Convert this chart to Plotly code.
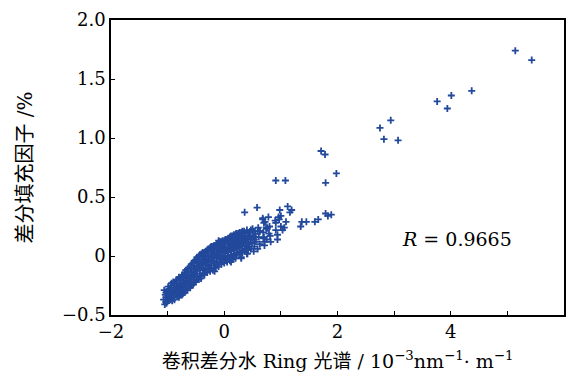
import plotly.graph_objects as go

# ---- data ----
# dense band, hand-read column by column
band_x = [
    -1.06, -1.04, -1.07, -1.05,
    -0.99, -1.01, -0.98, -1.00, -1.02,
    -0.94, -0.96, -0.93, -0.95,
    -0.90, -0.88, -0.91, -0.89, -0.92,
    -0.85, -0.84, -0.86, -0.83,
    -0.80, -0.79, -0.81, -0.78, -0.80,
    -0.75, -0.74, -0.76, -0.73, -0.75,
    -0.70, -0.69, -0.71, -0.68, -0.70,
    -0.65, -0.64, -0.66, -0.63, -0.65,
    -0.60, -0.59, -0.61, -0.58, -0.60,
    -0.55, -0.54, -0.56, -0.53, -0.55,
    -0.50, -0.49, -0.51, -0.48, -0.50,
    -0.45, -0.44, -0.46, -0.43, -0.45,
    -0.40, -0.39, -0.41, -0.38, -0.40,
    -0.35, -0.34, -0.36, -0.33, -0.35,
    -0.30, -0.29, -0.31, -0.28, -0.30,
    -0.25, -0.24, -0.26, -0.23, -0.25,
    -0.20, -0.19, -0.21, -0.18, -0.20,
    -0.15, -0.14, -0.16, -0.13, -0.15,
    -0.10, -0.09, -0.11, -0.08, -0.10,
    -0.05, -0.04, -0.06, -0.03, -0.05,
    0.00, 0.01, -0.01, 0.02, 0.00,
    0.05, 0.06, 0.04, 0.07, 0.05,
    0.10, 0.11, 0.09, 0.12, 0.10,
    0.15, 0.16, 0.14, 0.17, 0.15,
    0.20, 0.21, 0.19, 0.22, 0.20,
    0.25, 0.26, 0.24, 0.27,
    0.30, 0.31, 0.29, 0.32, 0.30,
    0.35, 0.36, 0.34, 0.37,
    0.40, 0.41, 0.39, 0.42, 0.40,
    0.45, 0.46, 0.44,
    0.50, 0.51, 0.49, 0.52,
    0.55, 0.56,
    0.60, 0.61, 0.59,
    0.70, 0.69, 0.71,
    0.80, 0.81,
    0.90, 0.91,
]
band_y = [
    -0.29, -0.33, -0.37, -0.41,
    -0.26, -0.30, -0.34, -0.38, -0.40,
    -0.25, -0.29, -0.33, -0.37,
    -0.22, -0.27, -0.31, -0.35, -0.38,
    -0.21, -0.26, -0.30, -0.34,
    -0.18, -0.23, -0.27, -0.31, -0.35,
    -0.17, -0.21, -0.26, -0.30, -0.33,
    -0.14, -0.19, -0.23, -0.27, -0.31,
    -0.11, -0.16, -0.21, -0.25, -0.29,
    -0.09, -0.14, -0.18, -0.22, -0.27,
    -0.06, -0.11, -0.16, -0.20, -0.24,
    -0.03, -0.08, -0.13, -0.17, -0.22,
    0.00, -0.05, -0.10, -0.15, -0.20,
    0.02, -0.03, -0.08, -0.12, -0.17,
    0.03, -0.02, -0.06, -0.11, -0.16,
    0.05, 0.00, -0.05, -0.09, -0.14,
    0.07, 0.02, -0.03, -0.08, -0.13,
    0.08, 0.03, -0.01, -0.06, -0.12,
    0.09, 0.05, 0.00, -0.05, -0.10,
    0.11, 0.06, 0.01, -0.03, -0.09,
    0.12, 0.07, 0.03, -0.02, -0.07,
    0.13, 0.08, 0.04, -0.01, -0.06,
    0.14, 0.10, 0.05, 0.00, -0.05,
    0.16, 0.11, 0.06, 0.01, -0.04,
    0.17, 0.12, 0.07, 0.02, -0.03,
    0.18, 0.13, 0.08, 0.03, -0.02,
    0.19, 0.14, 0.09, 0.04,
    0.20, 0.15, 0.10, 0.05, -0.01,
    0.21, 0.16, 0.11, 0.06,
    0.22, 0.17, 0.12, 0.07, 0.02,
    0.20, 0.14, 0.08,
    0.23, 0.17, 0.11, 0.04,
    0.19, 0.12,
    0.24, 0.16, 0.06,
    0.28, 0.20, 0.12,
    0.25, 0.17,
    0.30, 0.22,
]

# second pass over the band, filling between the first columns
fill_x = [
    -1.03, -1.03, -1.03,
    -0.98, -0.98, -0.98,
    -0.93, -0.93, -0.93, -0.93,
    -0.88, -0.88, -0.88, -0.88,
    -0.83, -0.83, -0.83, -0.83,
    -0.78, -0.78, -0.78, -0.78,
    -0.73, -0.73, -0.73, -0.73, -0.73,
    -0.68, -0.68, -0.68, -0.68, -0.68,
    -0.63, -0.63, -0.63, -0.63, -0.63,
    -0.58, -0.58, -0.58, -0.58, -0.58,
    -0.53, -0.53, -0.53, -0.53, -0.53,
    -0.48, -0.48, -0.48, -0.48, -0.48,
    -0.43, -0.43, -0.43, -0.43, -0.43,
    -0.38, -0.38, -0.38, -0.38, -0.38,
    -0.33, -0.33, -0.33, -0.33, -0.33,
    -0.28, -0.28, -0.28, -0.28, -0.28,
    -0.23, -0.23, -0.23, -0.23, -0.23,
    -0.18, -0.18, -0.18, -0.18, -0.18,
    -0.13, -0.13, -0.13, -0.13, -0.13,
    -0.08, -0.08, -0.08, -0.08, -0.08,
    -0.03, -0.03, -0.03, -0.03, -0.03,
    0.02, 0.02, 0.02, 0.02, 0.02,
    0.07, 0.07, 0.07, 0.07, 0.07,
    0.12, 0.12, 0.12, 0.12, 0.12,
    0.17, 0.17, 0.17, 0.17, 0.17,
    0.22, 0.22, 0.22, 0.22, 0.22,
    0.27, 0.27, 0.27, 0.27, 0.27,
    0.32, 0.32, 0.32, 0.32, 0.32,
    0.37, 0.37, 0.37, 0.37,
    0.42, 0.42, 0.42, 0.42,
    0.47, 0.47, 0.47,
    0.53, 0.53, 0.53,
    0.63, 0.63,
    0.75, 0.75,
]
fill_y = [
    -0.31, -0.35, -0.39,
    -0.28, -0.32, -0.36,
    -0.23, -0.27, -0.31, -0.35,
    -0.24, -0.29, -0.33, -0.37,
    -0.20, -0.24, -0.28, -0.32,
    -0.20, -0.25, -0.29, -0.33,
    -0.16, -0.19, -0.23, -0.28, -0.32,
    -0.12, -0.17, -0.21, -0.25, -0.29,
    -0.10, -0.13, -0.18, -0.23, -0.27,
    -0.07, -0.11, -0.16, -0.20, -0.25,
    -0.04, -0.09, -0.13, -0.18, -0.22,
    -0.01, -0.06, -0.11, -0.15, -0.20,
    0.01, -0.03, -0.07, -0.12, -0.17,
    0.03, -0.01, -0.05, -0.10, -0.15,
    0.04, 0.00, -0.04, -0.08, -0.13,
    0.06, 0.02, -0.03, -0.07, -0.11,
    0.08, 0.04, 0.00, -0.05, -0.10,
    0.09, 0.05, 0.01, -0.04, -0.08,
    0.10, 0.07, 0.03, -0.02, -0.07,
    0.12, 0.08, 0.04, -0.01, -0.05,
    0.13, 0.09, 0.05, 0.00, -0.04,
    0.14, 0.10, 0.06, 0.02, -0.03,
    0.15, 0.12, 0.08, 0.03, -0.02,
    0.17, 0.13, 0.09, 0.04, -0.01,
    0.18, 0.14, 0.10, 0.05, 0.00,
    0.19, 0.15, 0.11, 0.06, 0.01,
    0.20, 0.16, 0.12, 0.07, 0.02,
    0.21, 0.17, 0.13, 0.08, 0.03,
    0.19, 0.14, 0.09, 0.04,
    0.20, 0.15, 0.10, 0.05,
    0.22, 0.16, 0.06,
    0.21, 0.14, 0.08,
    0.21, 0.10,
    0.23, 0.14,
]

# scattered points around and above the band
sparse_x = [
    0.36, 0.58, 0.68, 0.78, 0.72, 0.98, 1.12, 1.19, 1.16, 1.00, 0.96,
    1.09, 0.91, 1.00, 1.06, 1.03, 1.37, 1.45, 1.35, 1.60, 1.66, 1.79,
    1.83, 1.89, 0.21, 0.30, 0.44, 0.55, 0.62, 0.70, 0.79, 0.94, 0.94,
    0.71, 0.41, 0.68, 0.76, 0.69, 0.82, 0.97, -0.41, -0.17, -0.10,
    -0.08, 0.30, 0.12, -0.35, -0.55, -0.73, -0.88, 0.59, 0.74,
]
sparse_y = [
    0.37, 0.41, 0.32, 0.33, 0.29, 0.39, 0.42, 0.39, 0.37, 0.34, 0.33,
    0.29, 0.28, 0.25, 0.24, 0.22, 0.29, 0.29, 0.25, 0.29, 0.31, 0.36,
    0.34, 0.35, 0.19, 0.16, 0.17, 0.16, 0.21, 0.16, 0.19, 0.18, 0.14,
    0.09, 0.02, 0.31, 0.24, 0.15, 0.12, 0.31, -0.19, -0.13, 0.13,
    0.12, -0.02, -0.05, 0.02, -0.06, -0.18, -0.23, 0.21, 0.24,
]

# outliers at the upper right
outlier_x = [0.91, 1.08, 1.79, 1.98, 1.71, 1.78, 2.75, 2.94, 2.82, 3.07,
             3.76, 4.01, 3.94, 4.37, 5.14, 5.43]
outlier_y = [0.64, 0.64, 0.62, 0.70, 0.89, 0.86, 1.085, 1.15, 0.99, 0.98,
             1.31, 1.36, 1.25, 1.40, 1.74, 1.66]

x_ticks = [-2, 0, 2, 4, 6]
x_ticktext = ["\u22122", "0", "2", "4", "6"]
x_minor_ticks = [-1, 1, 3, 5]
y_ticks = [-0.5, 0, 0.5, 1.0, 1.5, 2.0]
y_ticktext = ["\u22120.5", "0", "0.5", "1.0", "1.5", "2.0"]

x_title = ("卷积差分水 Ring 光谱 / 10<sup>\u22123</sup>nm<sup>\u22121</sup>"
           "· m<sup>\u22121</sup>")
y_title = "差分填充因子 /%"
r_text = "<i>R</i> = 0.9665"

# ---- figure ----
xs = band_x + fill_x + sparse_x + outlier_x
ys = band_y + fill_y + sparse_y + outlier_y
blue = "#22499c"

fig = go.Figure(go.Scatter(
    x=xs, y=ys, mode="markers",
    marker=dict(symbol="cross-thin", size=5, color=blue,
                line=dict(color=blue, width=1.8)),
    showlegend=False,
))

serif = "DejaVu Serif"
title_font = "DejaVu Serif, Noto Sans CJK SC"

axis_common = dict(
    showline=True, linecolor="black", linewidth=1.5, mirror=True,
    ticks="inside", ticklen=4, tickwidth=1, tickcolor="black",
    showgrid=False, zeroline=False,
    tickfont=dict(family=serif, size=18, color="black"),
)

fig.update_xaxes(
    range=[-2, 6], tickvals=x_ticks, ticktext=x_ticktext,
    minor=dict(tickvals=x_minor_ticks, ticks="inside", ticklen=4,
               tickwidth=1, tickcolor="black", showgrid=False),
    title=dict(text=x_title,
               font=dict(family=title_font, size=19, color="black"), standoff=13),
    **axis_common,
)
fig.update_yaxes(
    range=[-0.5, 2.0], tickvals=y_ticks, ticktext=y_ticktext,
    title=dict(text=y_title,
               font=dict(family=title_font, size=20, color="black"), standoff=24),
    **axis_common,
)

fig.add_annotation(
    x=3.11, y=0.144, xref="x", yref="y", text=r_text, showarrow=False,
    xanchor="left", yanchor="middle",
    font=dict(family=serif, size=19, color="black"),
)

fig.update_layout(
    width=569, height=374,
    margin=dict(l=111, r=3, t=20, b=59),
    plot_bgcolor="white", paper_bgcolor="white",
)

fig.write_html("out.html")
